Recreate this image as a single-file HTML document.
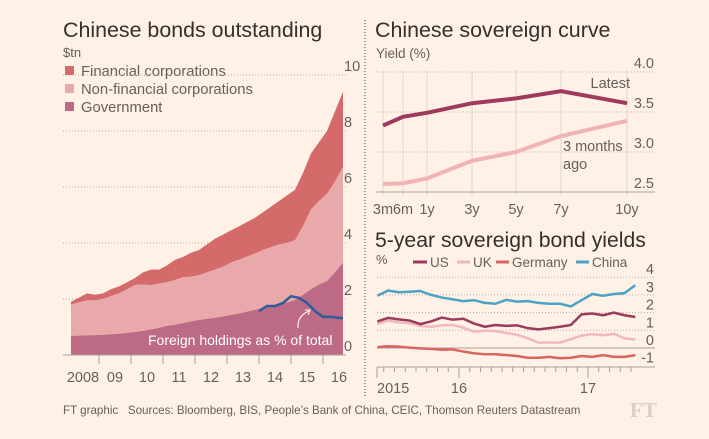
<!DOCTYPE html>
<html><head><meta charset="utf-8"><style>
html,body{margin:0;padding:0;background:#fff1e5;}
svg{display:block;font-family:"Liberation Sans",sans-serif;}
</style></head><body>
<svg id="s" width="709" height="439" viewBox="0 0 709 439" xmlns="http://www.w3.org/2000/svg">
<rect width="709" height="439" fill="#fff1e5"/>
<line x1="365" y1="20" x2="365" y2="396" stroke="#4d4845" stroke-dasharray="1,2"/>
<text x="63" y="37" font-size="21.4" fill="#33302e">Chinese bonds outstanding</text>
<text x="63" y="57" font-size="13" fill="#66605c">$tn</text>
<g>
<rect x="65" y="66" width="9" height="9" fill="#d46a6a"/>
<text x="81" y="76" font-size="14.8" fill="#66605c">Financial corporations</text>
<rect x="65" y="84" width="9" height="9" fill="#e9a9ab"/>
<text x="81" y="94" font-size="14.8" fill="#66605c">Non-financial corporations</text>
<rect x="65" y="102" width="9" height="9" fill="#bc6a85"/>
<text x="81" y="112" font-size="14.8" fill="#66605c">Government</text>
</g>
<g id="left"></g>
<text x="375" y="37" font-size="21.4" fill="#33302e">Chinese sovereign curve</text>
<text x="376" y="58" font-size="13.5" fill="#66605c">Yield (%)</text>
<g id="curve"></g>
<text x="375" y="247" font-size="21.2" fill="#33302e">5-year sovereign bond yields</text>
<text x="376" y="264" font-size="13" fill="#66605c">%</text>
<g>
<line x1="413" y1="262" x2="427" y2="262" stroke="#9b3b5c" stroke-width="3"/>
<text x="430" y="267" font-size="13.5" fill="#66605c">US</text>
<line x1="457" y1="262" x2="470" y2="262" stroke="#f2b8bb" stroke-width="3"/>
<text x="473" y="267" font-size="13.5" fill="#66605c">UK</text>
<line x1="496" y1="262" x2="509" y2="262" stroke="#d8665f" stroke-width="3"/>
<text x="512" y="267" font-size="13.5" fill="#66605c">Germany</text>
<line x1="576" y1="262" x2="589" y2="262" stroke="#4aa2c9" stroke-width="3"/>
<text x="592" y="267" font-size="13.5" fill="#66605c">China</text>
</g>
<g id="yields"></g>
<text x="63" y="414" font-size="11.6" fill="#66605c" style="white-space:pre">FT graphic   Sources: Bloomberg, BIS, People’s Bank of China, CEIC, Thomson Reuters Datastream</text>
<text x="630" y="417" font-size="21" font-weight="bold" font-family="Liberation Serif, serif" fill="#d9d0c6">FT</text>
</svg>
<script>
// ---- Left chart data (quarterly, from 2008.125) ----
const govVals=[0.68,0.69,0.70,0.71,0.72,0.74,0.76,0.79,0.82,0.86,0.91,0.97,1.04,1.08,1.14,1.20,1.25,1.29,1.33,1.38,1.43,1.48,1.55,1.61,1.68,1.72,1.80,1.88,1.96,2.15,2.35,2.52,2.64,2.95,3.30];
const nonfinVals=[1.12,1.19,1.25,1.24,1.28,1.36,1.44,1.56,1.68,1.66,1.59,1.58,1.56,1.60,1.64,1.60,1.60,1.66,1.72,1.77,1.87,1.92,1.97,2.01,2.07,2.13,2.15,2.12,2.14,2.45,2.85,2.98,3.11,3.25,3.40];
const finVals=[0.10,0.17,0.25,0.20,0.20,0.25,0.25,0.25,0.25,0.43,0.55,0.50,0.60,0.72,0.72,0.85,0.90,1.00,1.10,1.15,1.15,1.20,1.23,1.28,1.35,1.45,1.55,1.70,1.80,1.90,2.00,2.10,2.25,2.50,2.70];
const foreignVals=[1.57,1.75,1.75,1.86,2.10,2.04,1.86,1.57,1.36,1.36,1.32,1.32];
const leftYTicks=[0,2,4,6,8,10];
const leftXLabels=["2008","09","10","11","12","13","14","15","16"];
// ---- Curve data ----
const tenors=["3m","6m","1y","3y","5y","7y","10y"];
const latestVals=[3.33,3.44,3.49,3.61,3.67,3.76,3.61];
const agoVals=[2.60,2.61,2.67,2.89,3.00,3.20,3.39];
const curveYTicks=["2.5","3.0","3.5","4.0"];
// ---- 5y yields (monthly from May 2015) ----
const chinaVals=[2.95,3.25,3.15,3.18,3.22,3.00,2.85,2.75,2.65,2.70,2.55,2.50,2.72,2.62,2.65,2.55,2.50,2.50,2.35,2.70,3.05,2.95,3.05,3.10,3.55];
const usVals=[1.50,1.70,1.62,1.55,1.35,1.50,1.72,1.60,1.65,1.38,1.20,1.30,1.25,1.28,1.12,1.05,1.12,1.20,1.30,1.90,1.95,1.85,2.00,1.85,1.75];
const ukVals=[1.35,1.55,1.45,1.40,1.25,1.20,1.28,1.30,1.15,0.92,0.98,0.95,0.85,0.75,0.55,0.30,0.32,0.30,0.50,0.70,0.78,0.72,0.80,0.55,0.48];
const deVals=[0.05,0.10,0.08,0.02,-0.02,-0.05,-0.10,-0.08,-0.20,-0.30,-0.35,-0.35,-0.40,-0.45,-0.55,-0.55,-0.50,-0.58,-0.55,-0.45,-0.50,-0.40,-0.50,-0.50,-0.40];
const yieldYTicks=[-1,0,1,2,3,4];
const yieldXLabels=["2015","16","17"];

const NS="http://www.w3.org/2000/svg";
function mk(parent,tag,attrs){const e=document.createElementNS(NS,tag);for(const k in attrs)e.setAttribute(k,attrs[k]);parent.appendChild(e);return e;}

// LEFT
(function(){
const g=document.getElementById('left');
const X=t=>99+(t-2009)*32, Y=v=>355-v*28;
leftYTicks.forEach(v=>{
 if(v>0){const l=mk(g,'line',{x1:63,x2:346,y1:Y(v),y2:Y(v),stroke:'#b8b0a8','stroke-dasharray':'1,2'});
 
 }
 const t=mk(g,'text',{x:344,y:Y(v)-4,'font-size':14.5,fill:'#66605c'});t.textContent=v;
 
 
});
const n=govVals.length, xs=govVals.map((_,i)=>X(2008.125+i*0.25));
const c1=govVals.slice(), c2=govVals.map((v,i)=>v+nonfinVals[i]), c3=c2.map((v,i)=>v+finVals[i]);
function area(top,bot,fill,name){
 let d='M'+xs[0]+','+Y(top[0]);
 for(let i=1;i<n;i++)d+='L'+xs[i]+','+Y(top[i]);
 for(let i=n-1;i>=0;i--)d+='L'+xs[i]+','+Y(bot?bot[i]:0);
 const p=mk(g,'path',{d:d+'Z',fill:fill});
 
 
}
area(c3,c2,'#d46a6a','area-financial');
area(c2,c1,'#e9a9ab','area-nonfinancial');
area(c1,null,'#bc6a85','area-government');
let d='';foreignVals.forEach((v,i)=>{const x=Math.min(X(2014+i*0.25),343);d+=(i?'L':'M')+x+','+Y(v);});
const fl=mk(g,'path',{d:d,fill:'none',stroke:'#2e5c99','stroke-width':2.5});


const ar=mk(g,'path',{d:'M298,328 Q297,316 309,311 M305,310 L310,310 L308,315',fill:'none',stroke:'#fff','stroke-width':1});


const at=mk(g,'text',{x:148,y:345,'font-size':14,fill:'#fff'});at.textContent='Foreign holdings as % of total';


const ax=mk(g,'line',{x1:63,x2:346,y1:355,y2:355,stroke:'#a8a099','stroke-width':1});


for(let y=2009;y<=2016;y++){const t=mk(g,'line',{x1:X(y),x2:X(y),y1:355,y2:364,stroke:'#a8a099'});
 
 }
leftXLabels.forEach((s,i)=>{const t=mk(g,'text',{x:X(2008.5+i),y:382,'font-size':14.5,fill:'#66605c','text-anchor':'middle'});t.textContent=s;
 
 });
})();

// CURVE
(function(){
const g=document.getElementById('curve');
const tx=[383,403,427,472,516,561,627];
const X=i=>tx[i], Y=v=>192-(v-2.5)*80;
curveYTicks.forEach(s=>{const v=parseFloat(s);
 if(v>2.5){const l=mk(g,'line',{x1:376,x2:655,y1:Y(v),y2:Y(v),stroke:'#b8b0a8','stroke-dasharray':'1,2'});
 
 }
 const t=mk(g,'text',{x:654,y:Y(v)-4,'font-size':14.5,fill:'#66605c','text-anchor':'end'});t.textContent=s;
 
 });
tenors.forEach((s,i)=>{
 const l=mk(g,'line',{x1:X(i),x2:X(i),y1:70,y2:196,stroke:'#e0d6cc','stroke-width':1});
 
 
 const t=mk(g,'text',{x:X(i),y:214,'font-size':14.5,fill:'#66605c','text-anchor':'middle'});t.textContent=s;
 
 });
const ax=mk(g,'line',{x1:376,x2:655,y1:192,y2:192,stroke:'#a8a099'});


function line(vals,col,name){let d='';vals.forEach((v,i)=>d+=(i?'L':'M')+X(i)+','+Y(v));
 const p=mk(g,'path',{d:d,fill:'none',stroke:col,'stroke-width':4});
 
 }
line(agoVals,'#f2b3b5','curve-3-months-ago');
line(latestVals,'#9e3a5e','curve-latest');
const t1=mk(g,'text',{x:630,y:88,'font-size':14.5,fill:'#66605c','text-anchor':'end'});t1.textContent='Latest';


const t2=mk(g,'text',{x:563,y:151,'font-size':14.5,fill:'#66605c'});t2.textContent='3 months';


const t3=mk(g,'text',{x:563,y:169,'font-size':14.5,fill:'#66605c'});t3.textContent='ago';


})();

// YIELDS
(function(){
const g=document.getElementById('yields');
const X=m=>459+(m-12)*10.75, Y=v=>348-v*17.7;
yieldYTicks.forEach(v=>{
 if(v>0){const l=mk(g,'line',{x1:377,x2:655,y1:Y(v),y2:Y(v),stroke:'#b8b0a8','stroke-dasharray':'1,2'});
 
 }
 const t=mk(g,'text',{x:654,y:Y(v)-3,'font-size':14.5,fill:'#66605c','text-anchor':'end'});t.textContent=v;
 
 });
const z=mk(g,'line',{x1:377,x2:655,y1:Y(0),y2:Y(0),stroke:'#a8a099'});


const ax=mk(g,'line',{x1:377,x2:655,y1:367,y2:367,stroke:'#a8a099'});


for(let m=5;m<=28;m++){const major=(m===12||m===24);
 const t=mk(g,'line',{x1:X(m),x2:X(m),y1:367,y2:major?378:372,stroke:'#a8a099'});
 
 }
const mt=mk(g,'line',{x1:377,x2:377,y1:367,y2:378,stroke:'#a8a099'});


const lx=[[377,'start'],[X(12),'middle'],[X(24),'middle']];
yieldXLabels.forEach((s,i)=>{const t=mk(g,'text',{x:lx[i][0],y:393,'font-size':14.5,fill:'#66605c','text-anchor':lx[i][1]});t.textContent=s;
 
 });
function line(vals,col,name){let d='';vals.forEach((v,i)=>d+=(i?'L':'M')+X(4.4+i)+','+Y(v));
 const p=mk(g,'path',{d:d,fill:'none',stroke:col,'stroke-width':2.5,'stroke-linejoin':'round'});
 
 }
line(deVals,'#d8665f','line-germany');
line(ukVals,'#f2b8bb','line-uk');
line(usVals,'#9b3b5c','line-us');
line(chinaVals,'#4aa2c9','line-china');
})();
</script>
</body></html>
